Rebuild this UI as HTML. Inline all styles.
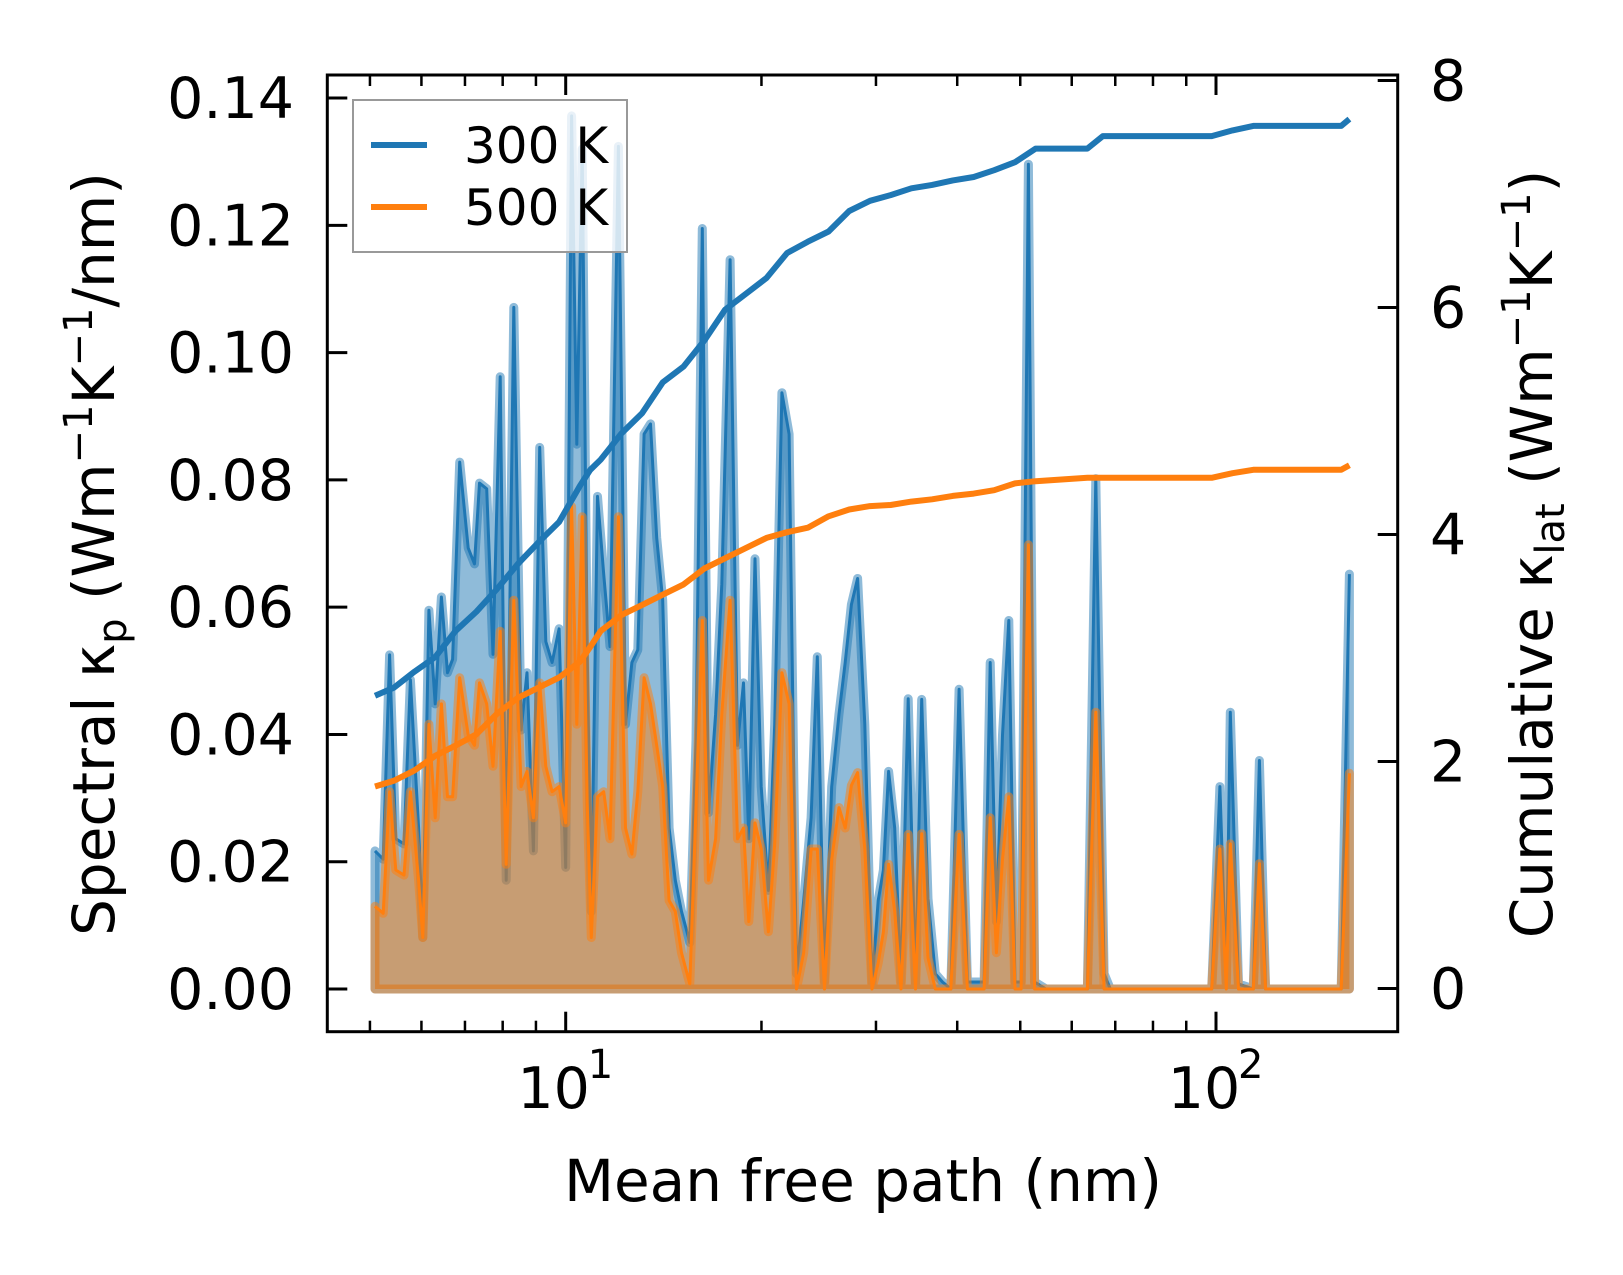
<!DOCTYPE html>
<html><head><meta charset="utf-8"><style>
html,body{margin:0;padding:0;background:#fff;}
svg text{font-family:"DejaVu Sans","Liberation Sans",sans-serif;fill:#000;}
</style></head><body>
<svg id="chart" width="1623" height="1270" viewBox="0 0 1623 1270" xmlns="http://www.w3.org/2000/svg">
<rect width="1623" height="1270" fill="#fff"/>
<g id="plot"></g>
<g id="axes"></g>
</svg>
<script>
const mfp = [5.09,5.24,5.36,5.48,5.64,5.77,5.94,6.03,6.16,6.30,
6.44,6.58,6.70,6.87,7.08,7.24,7.37,7.56,7.73,7.93,
8.10,8.32,8.54,8.72,8.92,9.12,9.32,9.53,9.77,10.0,
10.21,10.40,10.60,10.79,10.95,11.19,11.44,11.70,12.05,12.36,
12.64,12.91,13.20,13.50,13.80,14.10,14.42,14.74,15.07,15.52,
15.86,16.22,16.58,17.00,17.38,17.90,18.37,18.77,19.12,19.55,
19.98,20.50,20.96,21.50,22.06,22.64,23.23,23.84,24.37,25.00,
25.65,26.32,26.90,27.50,28.11,28.84,29.58,30.24,30.80,31.37,
32.06,32.78,33.63,34.51,35.27,36.07,37.01,37.97,39.10,40.27,
41.47,42.40,43.99,44.96,45.96,46.96,48.02,49.08,50.15,51.46,
52.60,54.76,63.43,65.33,67.28,68.78,98.5,101.4,103.7,105.2,
108.3,114.1,116.6,119.2,155.8,160.4];
const spec300 = [.0217,.0204,.0525,.0236,.0228,.0486,.0253,.0081,.0595,.0448,
.0616,.0497,.0518,.0828,.0693,.0668,.0795,.0786,.0526,.0962,
.0171,.1071,.0407,.0497,.0217,.0851,.0546,.0513,.0566,.0191,
.1372,.0856,.1320,.0530,.0122,.0774,.0652,.0538,.1324,.0416,
.0513,.0533,.0872,.0888,.0709,.0611,.0253,.0171,.0122,.0073,
.0391,.1195,.0277,.0432,.0636,.1146,.0383,.0481,.0236,.0676,
.0318,.0155,.0416,.0937,.0872,.0024,.0139,.0269,.0522,.0011,
.0318,.0432,.0513,.0604,.0645,.0416,.0008,.0139,.0187,.0342,
.0253,.0011,.0456,.0008,.0455,.0142,.0024,.0011,0,.0471,
.0011,.0011,.0011,.0513,.0106,.0399,.0579,.0011,.0011,.1296,
.0011,0,0,.0802,.0024,0,0,.0318,.0011,.0435,
.0008,0,.0359,0,0,.0652];
const spec500 = [.0130,.0119,.0310,.0187,.0179,.0310,.0171,.0081,.0416,.0269,
.0448,.0302,.0302,.0489,.0399,.0383,.0481,.0448,.0350,.0562,
.0196,.0611,.0318,.0342,.0269,.0481,.0350,.0310,.0318,.0261,
.0758,.0416,.0742,.0293,.0081,.0302,.0310,.0236,.0742,.0253,
.0212,.0310,.0489,.0448,.0383,.0318,.0139,.0122,.0057,.0008,
.0285,.0579,.0171,.0236,.0432,.0611,.0236,.0253,.0106,.0261,
.0220,.0090,.0228,.0497,.0448,0,.0057,.0220,.0220,0,
.0204,.0285,.0253,.0320,.0340,.0220,0,.0041,.0090,.0196,
.0122,0,.0243,0,.0244,.0049,0,0,0,.0243,
0,0,0,.0269,.0057,.0204,.0302,0,0,.0698,
0,0,0,.0435,0,0,0,.0220,0,.0228,
0,0,.0197,0,0,.0339];
const cumMfp = [5.09,5.44,5.85,6.30,6.77,7.29,7.84,8.44,9.08,9.77,10.52,10.91,11.32,12.18,13.11,14.10,15.18,16.34,17.58,18.92,20.36,21.90,23.57,25.37,27.29,29.37,31.60,34.01,36.60,39.38,42.40,45.60,49.08,52.8,63.43,67.0,76.2,98.5,106.0,114.1,155.8,160.4];
const cum300 = [2.58,2.65,2.79,2.92,3.15,3.32,3.52,3.74,3.93,4.11,4.43,4.57,4.66,4.89,5.07,5.34,5.48,5.71,5.98,6.12,6.26,6.48,6.58,6.67,6.85,6.94,6.99,7.05,7.08,7.12,7.15,7.21,7.28,7.40,7.40,7.51,7.51,7.51,7.56,7.60,7.60,7.66];
const cum500 = [1.78,1.83,1.92,2.05,2.14,2.24,2.42,2.56,2.65,2.74,2.88,3.01,3.15,3.29,3.38,3.47,3.56,3.70,3.79,3.88,3.97,4.02,4.06,4.16,4.22,4.25,4.26,4.29,4.31,4.34,4.36,4.39,4.45,4.47,4.50,4.50,4.50,4.50,4.54,4.57,4.57,4.61];
const leftTicks = [0,0.02,0.04,0.06,0.08,0.10,0.12,0.14];
const leftTickLabels = ["0.00","0.02","0.04","0.06","0.08","0.10","0.12","0.14"];
const rightTicks = [0,2,4,6,8];
const xMajor = [10,100];
const xMinor = [5,6,7,8,9,20,30,40,50,60,70,80,90];

const L=327.3,R=1397.7,T=75,B=1031.7;
const X = v => 565.7 + 650.3*(Math.log10(v)-1);
const YL = v => 989 - 6364*v;
const YR = v => 988.5 - 113.5*v;
const NS="http://www.w3.org/2000/svg";
function mk(tag,attrs,parent){const e=document.createElementNS(NS,tag);for(const k in attrs)e.setAttribute(k,attrs[k]);parent.appendChild(e);return e;}
const plot=document.getElementById('plot'), axes=document.getElementById('axes');
const clip=mk('clipPath',{id:'clp'},mk('defs',{},plot));
mk('rect',{x:L,y:T,width:R-L,height:B-T},clip);
const g=mk('g',{'clip-path':'url(#clp)'},plot);

function drawSpec(vals,color,name){
  let pts=vals.map((v,i)=>X(mfp[i]).toFixed(1)+','+YL(v).toFixed(1));
  let poly=pts.join(' ')+' '+X(mfp[mfp.length-1]).toFixed(1)+','+YL(0)+' '+X(mfp[0]).toFixed(1)+','+YL(0);
  const f=mk('polygon',{points:poly,fill:color,'fill-opacity':0.5,stroke:color,'stroke-opacity':0.5,'stroke-width':9,'stroke-linejoin':'round'},g);
  
  
  const l=mk('polyline',{points:pts.join(' '),fill:'none',stroke:color,'stroke-width':3,'stroke-linejoin':'round'},g);
  
  
}
drawSpec(spec300,'#1f77b4','spectral-300k');
drawSpec(spec500,'#ff7f0e','spectral-500k');
function drawCum(vals,color,name){
  const pts=vals.map((v,i)=>X(cumMfp[i]).toFixed(1)+','+YR(v).toFixed(1)).join(' ');
  const l=mk('polyline',{points:pts,fill:'none',stroke:color,'stroke-width':6,'stroke-linejoin':'round'},g);
  
  
}
drawCum(cum300,'#1f77b4','cumulative-300k');
drawCum(cum500,'#ff7f0e','cumulative-500k');

const fr=mk('rect',{x:L,y:T,width:R-L,height:B-T,fill:'none',stroke:'#000','stroke-width':3},axes);


leftTicks.forEach((v,i)=>{
  const y=YL(v);
  const t=mk('line',{x1:L,x2:L+20,y1:y,y2:y,stroke:'#000','stroke-width':3},axes);
  
  
  const tx=mk('text',{x:294,y:y+20,'text-anchor':'end','font-size':57},axes);
  tx.textContent=leftTickLabels[i];
  
  
});
rightTicks.forEach(v=>{
  const y=YR(v);
  const t=mk('line',{x1:R-20,x2:R,y1:y,y2:y,stroke:'#000','stroke-width':3},axes);
  
  
  const tx=mk('text',{x:1430,y:y+20,'font-size':57},axes);
  tx.textContent=String(v);
  
  
});
xMajor.forEach((v,i)=>{
  const x=X(v);
  [[B,B-20],[T,T+20]].forEach(p=>{
    const t=mk('line',{x1:x,x2:x,y1:p[0],y2:p[1],stroke:'#000','stroke-width':3},axes);
    
    
  });
  const tx=mk('text',{x:x-12,y:1108,'text-anchor':'middle','font-size':57},axes);
  tx.textContent='10';
  
  
  const sp=mk('text',{x:x+22,y:1078,'font-size':40},axes);
  sp.textContent=String(i+1);
  
  
});
xMinor.forEach(v=>{
  const x=X(v);
  [[B,B-11],[T,T+11]].forEach(p=>{
    const t=mk('line',{x1:x,x2:x,y1:p[0],y2:p[1],stroke:'#000','stroke-width':2.5},axes);
    
    
  });
});
</script>
<svg style="position:absolute;left:0;top:0" width="1623" height="1270">
<text x="863" y="1201" text-anchor="middle" font-size="58">Mean free path (nm)</text>
<text transform="translate(114,554) rotate(-90)" text-anchor="middle" font-size="58">Spectral κ<tspan font-size="40" dy="12">p</tspan><tspan dy="-12"> (Wm</tspan><tspan font-size="40" dy="-22">−1</tspan><tspan dy="22">K</tspan><tspan font-size="40" dy="-22">−1</tspan><tspan dy="22">/nm)</tspan></text>
<text transform="translate(1552,554) rotate(-90)" text-anchor="middle" font-size="58">Cumulative κ<tspan font-size="40" dy="12">lat</tspan><tspan dy="-12"> (Wm</tspan><tspan font-size="40" dy="-22">−1</tspan><tspan dy="22">K</tspan><tspan font-size="40" dy="-22">−1</tspan><tspan dy="22">)</tspan></text>
<g>
<rect x="353" y="100" width="274" height="152" fill="#fff" fill-opacity="0.8" stroke="#999" stroke-width="2"/>
<line x1="371" x2="427" y1="145" y2="145" stroke="#1f77b4" stroke-width="6"/>
<text x="464" y="163" font-size="50">300 K</text>
<line x1="371" x2="427" y1="207" y2="207" stroke="#ff7f0e" stroke-width="6"/>
<text x="464" y="225" font-size="50">500 K</text>
</g>
</svg>
</body></html>
